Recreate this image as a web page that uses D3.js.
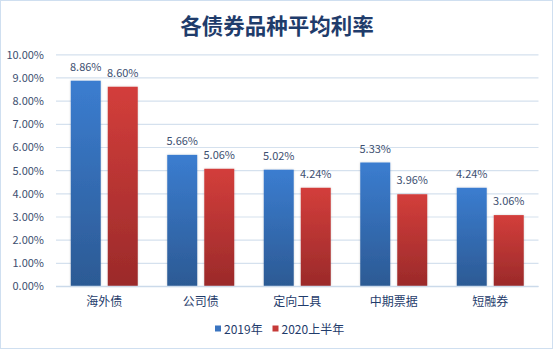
<!DOCTYPE html>
<html><head><meta charset="utf-8">
<script src="https://cdn.jsdelivr.net/npm/d3@7"></script>
<style>
html,body{margin:0;padding:0;background:#fff;}
svg{display:block;}
text{font-family:"Noto Sans CJK SC","Microsoft YaHei",sans-serif;}
</style></head>
<body><svg id="c" width="553" height="349"></svg>
<script>
const categories = ["海外债","公司债","定向工具","中期票据","短融券"];
const series2019 = [8.86,5.66,5.02,5.33,4.24];
const series2020H1 = [8.60,5.06,4.24,3.96,3.06];
const seriesNames = ["2019年","2020上半年"];
const yTicks = [0,1,2,3,4,5,6,7,8,9,10];
const title = "各债券品种平均利率";

const svg = d3.select("#c");
const W = 553, H = 349;
const m = {left:56, right:14.5, top:54.3, bottom:63};
const x0 = d3.scaleBand().domain(categories).range([m.left, W-m.right]).paddingInner(0).paddingOuter(0);
const y = d3.scaleLinear().domain([0,10]).range([286, 54.3]);
const x1 = d3.scaleBand().domain(seriesNames).range([0, 67]).paddingInner(0.19);

svg.append("rect").attr("x",0.5).attr("y",0.5).attr("width",W-1).attr("height",H-1)
  .attr("fill","#fff").attr("stroke","#cfdff0").attr("stroke-width",1);

const defs = svg.append("defs");
const gradBlue = defs.append("linearGradient").attr("id","gb").attr("x1",0).attr("y1",0).attr("x2",0).attr("y2",1);
gradBlue.append("stop").attr("offset","0%").attr("stop-color","#3b7dd0");
gradBlue.append("stop").attr("offset","100%").attr("stop-color","#2c5a94");
const gradRed = defs.append("linearGradient").attr("id","gr").attr("x1",0).attr("y1",0).attr("x2",0).attr("y2",1);
gradRed.append("stop").attr("offset","0%").attr("stop-color","#d33e3b");
gradRed.append("stop").attr("offset","100%").attr("stop-color","#9b2a2a");
const filt = defs.append("filter").attr("id","sh").attr("x","-20%").attr("y","-5%").attr("width","140%").attr("height","110%");
filt.append("feDropShadow").attr("dx",0).attr("dy",0).attr("stdDeviation",1.2).attr("flood-color","#000").attr("flood-opacity",0.18);

// title
svg.append("text").attr("x",277).attr("y",34).attr("text-anchor","middle")
  .attr("font-size",21.5).attr("font-weight","bold").attr("fill","#1f3c6b").text(title);

// gridlines
const yAxis = d3.axisLeft(y).tickValues(yTicks).tickSize(-(W-m.right-m.left)).tickFormat(d=>d.toFixed(2)+"%");
const ga = svg.append("g").attr("transform",`translate(${m.left},0)`).call(yAxis);
ga.select(".domain").remove();
ga.selectAll(".tick line").attr("stroke","#d5e1ee").attr("stroke-width",1.2);
ga.selectAll(".tick text").attr("x",-12).attr("dy","0.35em").attr("font-size",11)
  .attr("fill","#3d4f70").attr("font-family","Liberation Sans, Arial, sans-serif");

// bars
const data = categories.map((c,i)=>({c, vals:[{s:seriesNames[0],v:series2019[i],f:"url(#gb)"},{s:seriesNames[1],v:series2020H1[i],f:"url(#gr)"}]}));
const groups = svg.append("g").selectAll("g").data(data).join("g")
  .attr("transform",d=>`translate(${x0(d.c)+(x0.bandwidth()-67)/2},0)`);
groups.selectAll("rect").data(d=>d.vals).join("rect")
  .attr("x",d=>x1(d.s)).attr("width",x1.bandwidth())
  .attr("y",d=>y(d.v)).attr("height",d=>y(0)-y(d.v))
  .attr("fill",d=>d.f).attr("filter","url(#sh)");
groups.selectAll("text").data(d=>d.vals).join("text")
  .attr("x",d=>x1(d.s)+x1.bandwidth()/2).attr("y",d=>y(d.v)-10)
  .attr("text-anchor","middle").attr("font-size",11).attr("fill","#3d4f70")
  .attr("font-family","Liberation Sans, Arial, sans-serif")
  .text(d=>d.v.toFixed(2)+"%");

// baseline
svg.append("line").attr("x1",m.left).attr("x2",W-m.right).attr("y1",y(0)+0.5).attr("y2",y(0)+0.5)
  .attr("stroke","#cbdaea").attr("stroke-width",1.5);

// category labels
const xAxis = d3.axisBottom(x0).tickSize(0);
const gx = svg.append("g").attr("transform",`translate(0,${y(0)})`).call(xAxis);
gx.select(".domain").remove();
gx.selectAll(".tick text").attr("y",11).attr("dy","0.71em").attr("font-size",12).attr("fill","#1f3c6b")
  .attr("font-family","Noto Sans CJK SC, sans-serif");

// legend
const legend = [{n:seriesNames[0],c:"#3a74c0",x:215},{n:seriesNames[1],c:"#c63a38",x:272.5}];
const lg = svg.append("g").selectAll("g").data(legend).join("g").attr("transform",d=>`translate(${d.x},0)`);
lg.append("rect").attr("x",0).attr("y",325.5).attr("width",6).attr("height",6).attr("fill",d=>d.c);
lg.append("text").attr("x",9).attr("y",334).attr("font-size",12).attr("fill","#1f3c6b")
  .attr("font-family","Noto Sans CJK SC, sans-serif").text(d=>d.n);
</script></body></html>
